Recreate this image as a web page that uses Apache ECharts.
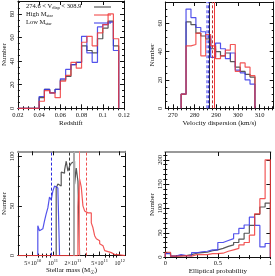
<!DOCTYPE html>
<html><head><meta charset="utf-8">
<script src="https://cdn.jsdelivr.net/npm/echarts@6/dist/echarts.min.js"></script>
<style>html,body{margin:0;padding:0;background:#fff}#c{width:275px;height:276px}</style>
</head><body><div id="c"></div>
<script>
// ---------- DATA ----------
// Panel 1: redshift histograms (bins start 0.02, width 0.005)
const zStart = 0.02, zWidth = 0.005;
const zBlack = [0,0,0,0, 9,16,13,16,24,27,37,39,53,49,47,59,68,74,53];
const zBlue  = [0,0,0,0,10,16,13,16,25,33,37,39,61,47,39,69,71,73,49];
const zRed   = [0,0,0,0, 6,15,13, 9,23,28,39,34,56,61,53,64,71,80,59];
const zTicks = [0.02,0.04,0.06,0.08,0.1,0.12];

// Panel 2: velocity dispersion histograms (bins start 273.8, width 2.27)
const vStart = 273.8, vWidth = 2.27;
const vBlack = [10,61,59,53,51,49,42,40,37,39,33,29,26,24,22];
const vBlue  = [10,70,64,57,54,51,36,46,42,35,39,27,25,20,17];
const vRed   = [10,44,45,53,37,52,44,35,37,41,45,26,32,29,23];
const vTicks = [270,280,290,300,310];
const vLinesBlueDash = [285.6, 286.2];
const vLineBlackSolid = 286.9;
const vLineRedDash = 288.1;
const vLineRedSolid = 289.3;

// Panel 3: stellar mass histograms (log10 M, width 0.025 dex)
const mWidth = 0.025;
const mBlueStart = 10.775;
const mBlue  = [30,25,27,28,35,42,48,59,56,65,70,68,69];
const mBlackStart = 11.05;
const mBlack = [68,72,70,84,83,86,95,85,90,93,95,72,88,75];
const mRedStart = 11.375;
const mRed   = [49,77,69,50,45,43,44,43,33,28,20,17,15,12,10,8,5,4,2,3,2,1,2,1];
const mTickMass = [5e10,1e11,2e11,5e11,1e12];
const mTickLabels = [['5×10','10'],['','10','11'],['2×10','11'],['5×10','11'],['','10','12']];
const mMinorMass = [4e10,6e10,7e10,8e10,9e10,3e11,4e11,6e11,7e11,8e11,9e11];
const mLineBlueDash = 10.98, mLineBlackDash = 11.252, mLineGraySolid = 11.31, mLineRedSolid = 11.39, mLineRedDash = 11.5;

// Panel 4: elliptical probability (bins start 0, width 0.05)
const pStart = 0, pWidth = 0.05;
const pBlack = [8,2,3,3,5,8,9,10,13,15,18,22,25,30,37,49,65,88,103,111];
const pBlue  = [7,2,5,3,3,9,11,12,15,15,30,34,38,48,59,66,82,65,21,28];
const pRed   = [10,2,2,3,2,5,5,5,7,7,8,12,15,18,25,30,45,89,120,200];

// ---------- STYLE ----------
const FONT = 'Liberation Serif';
const C_BLACK = '#3a3a3a', C_BLUE = '#3535e8', C_RED = '#f03a3a';
const LW = 1.2;

function hist(start, width, counts) {
  const pts = [[start, 0]];
  counts.forEach((v, i) => { pts.push([start + i * width, v]); pts.push([start + (i + 1) * width, v]); });
  pts.push([start + counts.length * width, 0]);
  return pts;
}
function range(a, b, s) { const r = []; for (let v = a; v <= b + 1e-9; v += s) r.push(+v.toFixed(6)); return r; }

const grids = [
  {left: 14, top: 1, width: 110, height: 107.3},
  {left: 165.3, top: 2, width: 108.4, height: 106.3},
  {left: 13.3, top: 151.3, width: 111.7, height: 107.4},
  {left: 165.3, top: 152, width: 106.7, height: 106.7}
];
const xAxes = [], yAxes = [];
function addAxes(dim, gi, s) {
  const list = dim === 'x' ? xAxes : yAxes;
  const pos = dim === 'x' ? ['bottom','top'] : ['left','right'];
  const base = {type: 'value', gridIndex: gi, min: s.min, max: s.max, splitLine: {show: false}};
  const mainIdx = list.length;
  list.push(Object.assign({}, base, {
    position: pos[0],
    axisLine: {show: true, onZero: false, lineStyle: {color: '#111', width: 1}},
    axisTick: {show: true, inside: true, length: 4, customValues: s.major, lineStyle: {color: '#111', width: 1}},
    axisLabel: {show: true, customValues: s.major, formatter: s.fmt, fontSize: 6.5, fontFamily: FONT, color: '#111',
      margin: dim === 'x' ? 3 : 2, rotate: dim === 'y' ? 90 : 0, rich: s.rich},
    name: s.name, nameLocation: 'middle', nameGap: s.nameGap, nameRotate: dim === 'y' ? 90 : 0,
    nameTextStyle: {fontSize: s.nameSize || 7, fontFamily: FONT, color: '#111', rich: s.nameRich}
  }));
  list.push(Object.assign({}, base, {
    position: pos[0], axisLine: {show: false},
    axisTick: {show: true, inside: true, length: 2, customValues: s.minor, lineStyle: {color: '#111', width: 1}},
    axisLabel: {show: false}
  }));
  list.push(Object.assign({}, base, {
    position: pos[1],
    axisLine: {show: true, onZero: false, lineStyle: {color: s.mirrorColor || '#111', width: s.mirrorWidth || 1}},
    axisTick: {show: true, inside: true, length: 4, customValues: s.major, lineStyle: {color: '#111', width: 1}},
    axisLabel: {show: false}
  }));
  list.push(Object.assign({}, base, {
    position: pos[1], axisLine: {show: false},
    axisTick: {show: true, inside: true, length: 2, customValues: s.minor, lineStyle: {color: '#111', width: 1}},
    axisLabel: {show: false}
  }));
  return mainIdx;
}
const num = v => String(+(+v).toFixed(4));

// Panel 1
const x1 = addAxes('x', 0, {min: 0.02, max: 0.12, major: zTicks, minor: range(0.02, 0.12, 0.005), fmt: num, name: 'Redshift', nameGap: 9});
const y1 = addAxes('y', 0, {min: 0, max: 91, major: [0,20,40,60,80], minor: range(0, 90, 5), fmt: num, name: 'Number', nameGap: 8});
// Panel 2
const x2 = addAxes('x', 1, {min: 266.5, max: 316.5, major: vTicks, minor: range(268, 316, 2), fmt: num, name: 'Velocity dispersion (km/s)', nameGap: 9});
const y2 = addAxes('y', 1, {min: 0, max: 75, major: [0,20,40,60], minor: range(0, 75, 5), fmt: num, name: 'Number', nameGap: 8});
// Panel 3
const mLogMin = Math.log10(3e10), mLogMax = Math.log10(1.2e12);
const mMajorLog = mTickMass.map(m => Math.log10(m));
const x3 = addAxes('x', 2, {min: mLogMin, max: mLogMax, major: mMajorLog, minor: mMinorMass.map(m => Math.log10(m)),
  fmt: v => { let i = 0, d = 1e9; mMajorLog.forEach((t, k) => { if (Math.abs(t - v) < d) { d = Math.abs(t - v); i = k; } });
              const L = mTickLabels[i]; return L.length === 2 ? '{b|' + L[0] + '}{s|' + L[1] + '}' : '{b|' + L[1] + '}{s|' + L[2] + '}'; },
  rich: {b: {fontSize: 6, fontFamily: FONT, color: '#111'}, s: {fontSize: 4.5, fontFamily: FONT, color: '#111', verticalAlign: 'bottom', padding: [0,0,4,0]}},
  name: '{a|Stellar mass (M}{s|☉}{a|)}', nameGap: 9, mirrorColor: '#999', mirrorWidth: 2,
  nameRich: {a: {fontSize: 7, fontFamily: FONT, color: '#111'}, s: {fontSize: 5, fontFamily: 'DejaVu Sans', color: '#111', padding: [4,0,0,0]}}});
const y3 = addAxes('y', 2, {min: 0, max: 105, major: [0,50,100], minor: range(0, 100, 10), fmt: num, name: 'Number', nameGap: 8});
// Panel 4
const x4 = addAxes('x', 3, {min: 0, max: 1, major: [0,0.5,1], minor: range(0, 1, 0.1), fmt: num, name: 'Elliptical probability', nameGap: 9, mirrorColor: '#999', mirrorWidth: 2});
const y4 = addAxes('y', 3, {min: 0, max: 216, major: [0,50,100,150,200], minor: range(0, 210, 10), fmt: num, name: 'Number', nameGap: 9});

function hs(xi, yi, data, color, mark) {
  const s = {type: 'line', xAxisIndex: xi, yAxisIndex: yi, data: data, symbol: 'none', showSymbol: false,
    lineStyle: {color: color, width: LW, opacity: 0.85}, animation: false, silent: true};
  if (mark) s.markLine = {symbol: 'none', silent: true, animation: false, label: {show: false}, data: mark};
  return s;
}
const dash = [3, 2];
const series = [
  hs(x1, y1, hist(zStart, zWidth, zBlack), C_BLACK),
  hs(x1, y1, hist(zStart, zWidth, zBlue), C_BLUE),
  hs(x1, y1, hist(zStart, zWidth, zRed), C_RED),

  hs(x2, y2, hist(vStart, vWidth, vBlack), C_BLACK, [{xAxis: vLineBlackSolid, lineStyle: {color: '#222244', width: 1, type: 'solid'}}]),
  hs(x2, y2, hist(vStart, vWidth, vBlue), C_BLUE, [
    {xAxis: vLinesBlueDash[0], lineStyle: {color: '#9a9af5', width: 2, type: dash}},
    {xAxis: vLinesBlueDash[1], lineStyle: {color: '#4a4ae0', width: 1, type: dash}}]),
  hs(x2, y2, hist(vStart, vWidth, vRed), C_RED, [
    {xAxis: vLineRedDash, lineStyle: {color: '#c03030', width: 1, type: dash}},
    {xAxis: vLineRedSolid, lineStyle: {color: '#f03a3a', width: 1, type: 'solid'}}]),

  hs(x3, y3, hist(mBlackStart, mWidth, mBlack), C_BLACK, [
    {xAxis: mLineBlackDash, lineStyle: {color: '#333', width: 1, type: dash}},
    {xAxis: mLineGraySolid, lineStyle: {color: '#aaa', width: 2, type: 'solid'}}]),
  hs(x3, y3, hist(mBlueStart, mWidth, mBlue), C_BLUE, [
    {xAxis: mLineBlueDash, lineStyle: {color: '#2a2ae0', width: 1, type: dash}}]),
  hs(x3, y3, [[mLogMin, 0]].concat(hist(mRedStart, mWidth, mRed), [[mLogMax, 0]]), C_RED, [
    {xAxis: mLineRedSolid, lineStyle: {color: '#f77', width: 1, type: 'solid'}},
    {xAxis: mLineRedDash, lineStyle: {color: '#f05050', width: 1, type: dash}}]),

  hs(x4, y4, hist(pStart, pWidth, pBlack), C_BLACK),
  hs(x4, y4, hist(pStart, pWidth, pBlue), C_BLUE),
  hs(x4, y4, hist(pStart, pWidth, pRed), C_RED)
];

const legendRich = {a: {fontSize: 6.5, fontFamily: FONT, fill: '#111'}, s: {fontSize: 4.5, fontFamily: FONT, fill: '#111', padding: [3,0,0,0]}};
const legendItems = [
  {text: '{a|274.6 < V}{s|disp}{a| < 308.9}', color: C_BLACK, y: 7},
  {text: '{a|High M}{s|star}', color: C_RED, y: 15},
  {text: '{a|Low M}{s|star}', color: C_BLUE, y: 23}
];
const graphic = [];
legendItems.forEach(it => {
  graphic.push({type: 'text', left: 26, top: it.y - 4, style: {text: it.text, rich: legendRich}, silent: true});
  graphic.push({type: 'line', shape: {x1: 94, y1: it.y, x2: 111, y2: it.y}, style: {stroke: it.color, lineWidth: 1}, silent: true});
});

const chart = echarts.init(document.getElementById('c'), null, {renderer: 'canvas'});
chart.setOption({
  backgroundColor: '#fff', animation: false,
  grid: grids, xAxis: xAxes, yAxis: yAxes, series: series, graphic: graphic
});
</script></body></html>
